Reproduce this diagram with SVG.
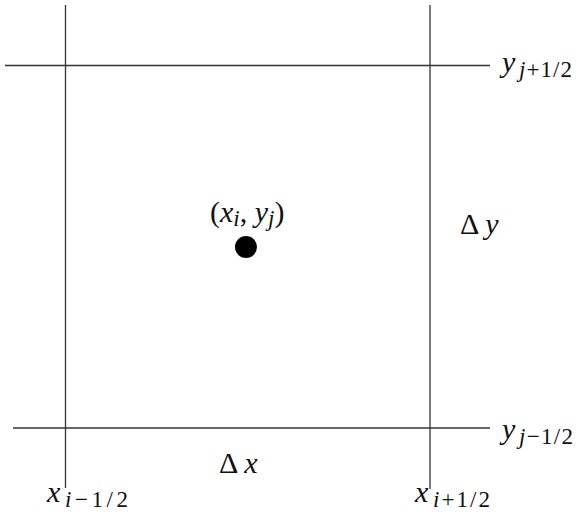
<svg xmlns="http://www.w3.org/2000/svg" width="584" height="525" viewBox="0 0 584 525">
<style>
.ln{stroke:#333;stroke-width:1.3;fill:none}
.m{font-size:30px;fill:#111}
.i{font-style:italic}
.s{font-size:23px}
</style>
<rect width="584" height="525" fill="#fff"/>
<g id="connectors">
<line class="ln" x1="65.5" y1="5" x2="65.5" y2="488"/>
<line class="ln" x1="430" y1="5" x2="430" y2="489"/>
<line class="ln" x1="5" y1="65.5" x2="490" y2="65.5"/>
<line class="ln" x1="13" y1="428" x2="490" y2="428"/>
</g>
<g font-family="'Liberation Serif', 'Times New Roman', Times, serif">
<g id="point">
<circle cx="246" cy="247" r="11" fill="#000"/>
<text class="m" x="210" y="222">(<tspan class="i">x</tspan><tspan class="i s" dy="4">i</tspan><tspan dy="-4">, </tspan><tspan class="i">y</tspan><tspan class="i s" dy="4">j</tspan><tspan dy="-4">)</tspan></text>
</g>
<g id="label-ytop"><text class="m" x="502" y="72"><tspan class="i">y</tspan><tspan class="s" x="519" dy="5" textLength="53" lengthAdjust="spacing"><tspan class="i">j</tspan>+1/2</tspan></text></g>
<g id="label-ybot"><text class="m" x="502" y="439"><tspan class="i">y</tspan><tspan class="s" x="519" dy="5" textLength="54" lengthAdjust="spacing"><tspan class="i">j</tspan>−1/2</tspan></text></g>
<g id="label-xleft"><text class="m" x="47" y="502"><tspan class="i">x</tspan><tspan class="s" x="65" dy="5" textLength="63" lengthAdjust="spacing"><tspan class="i">i</tspan>−1/2</tspan></text></g>
<g id="label-xright"><text class="m" x="415" y="502"><tspan class="i">x</tspan><tspan class="s" x="433" dy="5" textLength="57" lengthAdjust="spacing"><tspan class="i">i</tspan>+1/2</tspan></text></g>
<g id="label-dy"><text class="m" x="460" y="234">Δ <tspan class="i">y</tspan></text></g>
<g id="label-dx"><text class="m" x="219" y="473">Δ <tspan class="i">x</tspan></text></g>
</g>
</svg>
